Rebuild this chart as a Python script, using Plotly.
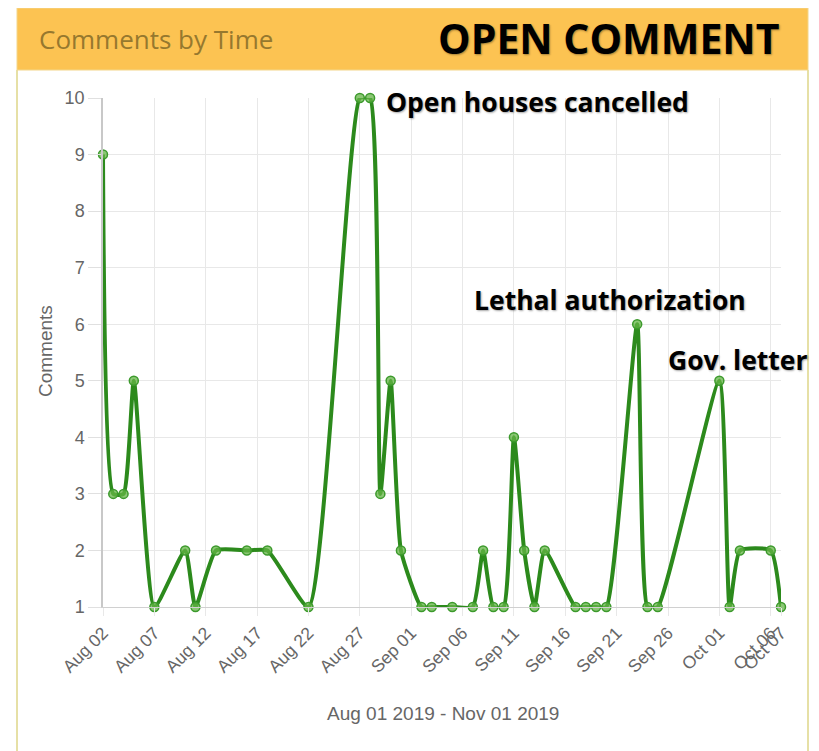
import plotly.graph_objects as go

# ---- data ----
dates = ["2019-08-02", "2019-08-03", "2019-08-04", "2019-08-05", "2019-08-07",
         "2019-08-10", "2019-08-11", "2019-08-13", "2019-08-16", "2019-08-18",
         "2019-08-22", "2019-08-27", "2019-08-28", "2019-08-29", "2019-08-30",
         "2019-08-31", "2019-09-02", "2019-09-03", "2019-09-05", "2019-09-07",
         "2019-09-08", "2019-09-09", "2019-09-10", "2019-09-11", "2019-09-12",
         "2019-09-13", "2019-09-14", "2019-09-17", "2019-09-18", "2019-09-19",
         "2019-09-20", "2019-09-23", "2019-09-24", "2019-09-25", "2019-10-01",
         "2019-10-02", "2019-10-03", "2019-10-06", "2019-10-07"]
comments = [9, 3, 3, 5, 1,
            2, 1, 2, 2, 2,
            1, 10, 10, 3, 5,
            2, 1, 1, 1, 1,
            2, 1, 1, 4, 2,
            1, 2, 1, 1, 1,
            1, 6, 1, 1, 5,
            1, 2, 2, 1]

tick_dates = ["2019-08-02", "2019-08-07", "2019-08-12", "2019-08-17", "2019-08-22",
              "2019-08-27", "2019-09-01", "2019-09-06", "2019-09-11", "2019-09-16",
              "2019-09-21", "2019-09-26", "2019-10-01", "2019-10-06", "2019-10-07"]
tick_labels = ["Aug 02", "Aug 07", "Aug 12", "Aug 17", "Aug 22", "Aug 27",
               "Sep 01", "Sep 06", "Sep 11", "Sep 16", "Sep 21", "Sep 26",
               "Oct 01", "Oct 06", "Oct 07"]

event_labels = ["Open houses cancelled", "Lethal authorization", "Gov. letter"]
header_title = "Comments by Time"
header_tag = "OPEN COMMENT"
range_text = "Aug 01 2019 - Nov 01 2019"
y_title = "Comments"

# ---- layout geometry (page pixels; page body has an 8px margin) ----
OFF = 8
W, H = 819 - OFF, 751 - OFF
L, R, T, B = 103, 781, 98, 607


def px(x):
    return (x - L) / (R - L)


def py(y):
    return (B - y) / (B - T)


fig = go.Figure()
# line (clipped to plot area like the original canvas)
fig.add_trace(go.Scatter(
    x=dates, y=comments, mode="lines",
    line=dict(color="#2c8a1c", width=4, shape="spline", smoothing=0.5),
    cliponaxis=True, showlegend=False, hoverinfo="skip",
))
# points (not clipped)
fig.add_trace(go.Scatter(
    x=dates, y=comments, mode="markers",
    marker=dict(size=9, color="rgba(100,180,70,0.75)",
                line=dict(color="#3c9a2c", width=1.5)),
    cliponaxis=False, showlegend=False, hoverinfo="x+y",
))

shapes = [
    dict(type="line", xref="paper", yref="paper", x0=px(17), x1=px(17),
         y0=py(70), y1=py(760), line=dict(color="#e6e0a6", width=2), layer="below"),
    dict(type="line", xref="paper", yref="paper", x0=px(808), x1=px(808),
         y0=py(70), y1=py(760), line=dict(color="#e6e0a6", width=2), layer="below"),
    dict(type="rect", xref="paper", yref="paper", x0=px(17), x1=px(808),
         y0=py(70), y1=py(8), fillcolor="#fcc352",
         line=dict(color="#f3d68a", width=1), layer="below"),
]

text_shadow = "1px 1px 2px rgba(0,0,0,0.35)"
annotations = [
    dict(text=header_title, x=px(37), y=py(39), xanchor="left", yanchor="middle",
         font=dict(family="Open Sans", size=26, color="#96782e")),
    dict(text="<b>" + header_tag + "</b>", x=px(781), y=py(38), xanchor="right",
         yanchor="middle",
         font=dict(family="Open Sans", size=41, color="#000000", shadow=text_shadow)),
    dict(text="<b>" + event_labels[0] + "</b>", x=px(537), y=py(102),
         xanchor="center", yanchor="middle",
         font=dict(family="Open Sans", size=26.5, color="#000000", shadow=text_shadow)),
    dict(text="<b>" + event_labels[1] + "</b>", x=px(610), y=py(300),
         xanchor="center", yanchor="middle",
         font=dict(family="Open Sans", size=26.5, color="#000000", shadow=text_shadow)),
    dict(text="<b>" + event_labels[2] + "</b>", x=px(738), y=py(360),
         xanchor="center", yanchor="middle",
         font=dict(family="Open Sans", size=26.5, color="#000000", shadow=text_shadow)),
    dict(text=range_text, x=px(443), y=py(713), xanchor="center", yanchor="middle",
         font=dict(family="Liberation Sans", size=19, color="#666666")),
    dict(text=y_title, x=px(45), y=py(351), xanchor="center", yanchor="middle",
         textangle=-90,
         font=dict(family="Liberation Sans", size=19, color="#666666")),
]
for a in annotations:
    a.update(xref="paper", yref="paper", showarrow=False)

fig.update_layout(
    width=W, height=H,
    margin=dict(l=L - OFF, r=W - (R - OFF), t=T - OFF, b=H - (B - OFF), pad=0),
    paper_bgcolor="#ffffff", plot_bgcolor="#ffffff",
    shapes=shapes, annotations=annotations,
    xaxis=dict(
        type="date", range=["2019-08-02", "2019-10-07"],
        tickmode="array", tickvals=tick_dates, ticktext=tick_labels,
        tickangle=-45, tickfont=dict(family="Liberation Sans", size=17.5, color="#666666"),
        showgrid=True, gridcolor="#e8e8e8", gridwidth=1,
        ticks="outside", ticklen=8, tickcolor="#e8e8e8",
        showline=True, linecolor="#d0d0d0", linewidth=1,
        zeroline=False, fixedrange=True,
    ),
    yaxis=dict(
        range=[1, 10], tickmode="array", tickvals=list(range(1, 11)),
        tickfont=dict(family="Liberation Sans", size=18, color="#666666"),
        showgrid=True, gridcolor="#e8e8e8", gridwidth=1,
        ticks="outside", ticklen=13, tickcolor="#e0e0e0",
        showline=True, linecolor="#c8c8c8", linewidth=1.5,
        zeroline=False, fixedrange=True,
    ),
)

fig.write_html("out.html")
